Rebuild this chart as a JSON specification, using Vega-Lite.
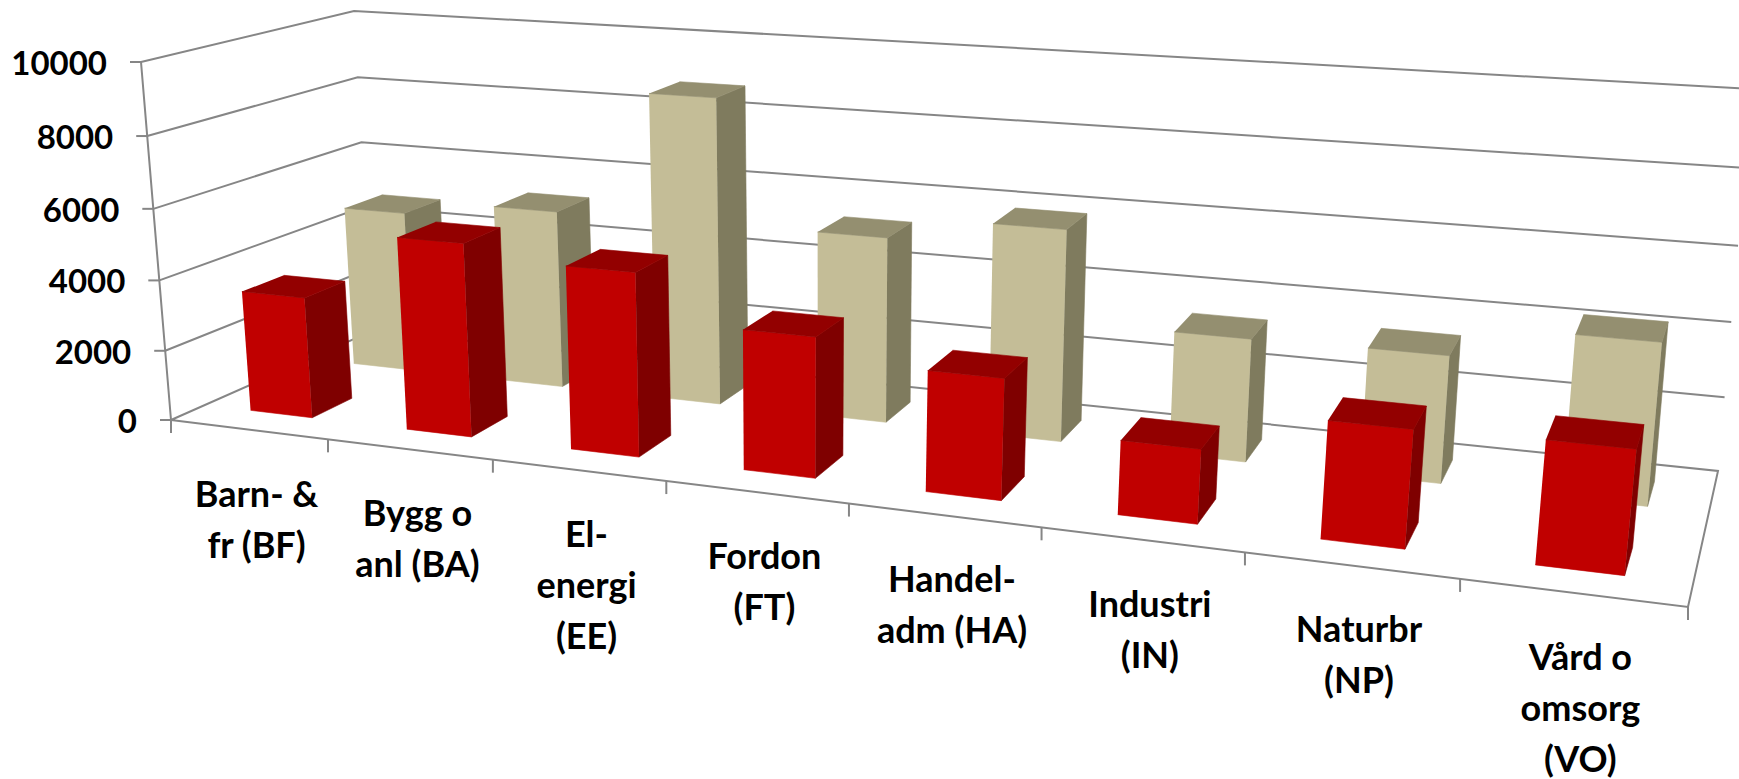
{"$schema":"https://vega.github.io/schema/vega-lite/v6.json","width":1739,"height":779,"padding":0,"autosize":{"type":"none"},"background":"white","config":{"view":{"stroke":null}},
"datasets":{"bars":[
{"category":"Barn- &\nfr (BF)","series":"B","value":4755},{"category":"Bygg o\nanl (BA)","series":"B","value":5180},{"category":"El-\nenergi\n(EE)","series":"B","value":8750},{"category":"Fordon\n(FT)","series":"B","value":5230},{"category":"Handel-\nadm (HA)","series":"B","value":5860},{"category":"Industri\n(IN)","series":"B","value":3350},{"category":"Naturbr\n(NP)","series":"B","value":3400},{"category":"Vård o\nomsorg\n(VO)","series":"B","value":4240},
{"category":"Barn- &\nfr (BF)","series":"A","value":3450},{"category":"Bygg o\nanl (BA)","series":"A","value":5400},{"category":"El-\nenergi\n(EE)","series":"A","value":5040},{"category":"Fordon\n(FT)","series":"A","value":3785},{"category":"Handel-\nadm (HA)","series":"A","value":3200},{"category":"Industri\n(IN)","series":"A","value":1925},{"category":"Naturbr\n(NP)","series":"A","value":2980},{"category":"Vård o\nomsorg\n(VO)","series":"A","value":3060}],
"levels":[{"level":0},{"level":2000},{"level":4000},{"level":6000},{"level":8000},{"level":10000}],
"ticks":[{"tick":0},{"tick":1},{"tick":2},{"tick":3},{"tick":4},{"tick":5},{"tick":6},{"tick":7},{"tick":8}]},
"encoding":{"x":{"field":"px","type":"quantitative","scale":{"domain":[0,1739]},"axis":null},"y":{"field":"py","type":"quantitative","scale":{"domain":[0,779],"reverse":true},"axis":null}},
"layer":[
{"data":{"name":"levels"},"transform":[
{"calculate":"[0,1,2,3,4]","as":"corner"},{"flatten":["corner"]},
{"calculate":"(datum.corner==2||datum.corner==3)?1:0","as":"u"},
{"calculate":"(datum.corner==1||datum.corner==2)?1:0","as":"z"},
{"calculate":"datum.level/10000","as":"Y"},
{"calculate":"datum.Y*0.9587/(1-0.0413*datum.Y)","as":"v"},
{"calculate":"(1-datum.u)*((1-datum.z)*171+datum.z*372)+datum.u*((1-datum.z)*1688+datum.z*1718)","as":"bx"},
{"calculate":"(1-datum.u)*((1-datum.z)*420+datum.z*331)+datum.u*((1-datum.z)*607+datum.z*471)","as":"by"},
{"calculate":"(1-datum.u)*((1-datum.z)*141+datum.z*354)+datum.u*((1-datum.z)*1733+datum.z*1752)","as":"tx"},
{"calculate":"(1-datum.u)*((1-datum.z)*62+datum.z*11)+datum.u*((1-datum.z)*168+datum.z*89)","as":"ty"},
{"calculate":"datum.bx+datum.v*(datum.tx-datum.bx)","as":"px"},
{"calculate":"datum.by+datum.v*(datum.ty-datum.by)","as":"py"},
{"calculate":"datum.px-11","as":"px2"}],
"layer":[
{"transform":[{"filter":"datum.corner<=2||datum.level==0"}],"mark":{"type":"line","color":"#868686","strokeWidth":2},"encoding":{"detail":{"field":"level"},"order":{"field":"corner"}}},
{"transform":[{"filter":"datum.corner==0"}],"mark":{"type":"line","color":"#868686","strokeWidth":2},"encoding":{"order":{"field":"level"}}},
{"transform":[{"filter":"datum.corner==0"}],"mark":{"type":"rule","color":"#868686","strokeWidth":2},"encoding":{"x2":{"field":"px2"}}},
{"transform":[{"filter":"datum.corner==0"}],"mark":{"type":"text","font":"Lato","fontWeight":"bold","fontSize":33,"align":"right","baseline":"middle","dx":-34,"dy":3,"color":"black"},"encoding":{"text":{"field":"level","type":"nominal"}}}]},
{"data":{"name":"ticks"},"transform":[
{"calculate":"datum.tick/8*0.808/(1-0.024*datum.tick)","as":"u"},
{"calculate":"171+1517*datum.u","as":"px"},
{"calculate":"420+187*datum.u","as":"py"},
{"calculate":"datum.py+13","as":"py2"}],
"mark":{"type":"rule","color":"#868686","strokeWidth":2},"encoding":{"y2":{"field":"py2"}}},
{"data":{"name":"bars"},"transform":[
{"window":[{"op":"row_number","as":"n"}],"groupby":["series"]},
{"calculate":"['front','side','top']","as":"face"},{"flatten":["face"]},
{"calculate":"[0,1,2,3]","as":"corner"},{"flatten":["corner"]},
{"calculate":"datum.face=='side'?1:((datum.corner==1||datum.corner==2)?1:0)","as":"wx"},
{"calculate":"datum.face=='front'?0:(datum.face=='top'?(datum.corner>=2?1:0):((datum.corner==1||datum.corner==2)?1:0))","as":"wz"},
{"calculate":"datum.face=='top'?1:(datum.corner>=2?1:0)","as":"wy"},
{"calculate":"datum.series=='A'?datum.n-1+0.3+0.4*datum.wx:datum.n-1+0.31+0.405*datum.wx","as":"X"},
{"calculate":"datum.series=='A'?0.17+0.21*datum.wz:0.69+0.185*datum.wz","as":"z"},
{"calculate":"datum.wy*datum.value/10000","as":"Y"},
{"calculate":"datum.X/8*0.808/(1-0.024*datum.X)","as":"u"},
{"calculate":"datum.Y*0.9587/(1-0.0413*datum.Y)","as":"v"},
{"calculate":"(1-datum.u)*((1-datum.z)*171+datum.z*372)+datum.u*((1-datum.z)*1688+datum.z*1718)","as":"bx"},
{"calculate":"(1-datum.u)*((1-datum.z)*420+datum.z*331)+datum.u*((1-datum.z)*607+datum.z*471)","as":"by"},
{"calculate":"(1-datum.u)*((1-datum.z)*141+datum.z*354)+datum.u*((1-datum.z)*1733+datum.z*1752)","as":"tx"},
{"calculate":"(1-datum.u)*((1-datum.z)*62+datum.z*11)+datum.u*((1-datum.z)*168+datum.z*89)","as":"ty"},
{"calculate":"datum.bx+datum.v*(datum.tx-datum.bx)","as":"px"},
{"calculate":"datum.by+datum.v*(datum.ty-datum.by)","as":"py"},
{"calculate":"datum.series+' '+datum.face","as":"tone"},
{"calculate":"datum.category+' '+datum.face","as":"shape"}],
"layer":[
{"transform":[{"filter":"datum.series=='B'"}],"mark":{"type":"line","filled":true,"strokeWidth":0.6},"encoding":{"detail":{"field":"shape"},"order":{"field":"corner"},"fill":{"field":"tone","type":"nominal","legend":null,"scale":{"domain":["A front","A side","A top","B front","B side","B top"],"range":["#C00000","#7F0000","#930000","#C4BD97","#7F7B5E","#948F70"]}},"stroke":{"field":"tone","type":"nominal","legend":null,"scale":{"domain":["A front","A side","A top","B front","B side","B top"],"range":["#C00000","#7F0000","#930000","#C4BD97","#7F7B5E","#948F70"]}}}},
{"transform":[{"filter":"datum.series=='A'"}],"mark":{"type":"line","filled":true,"strokeWidth":0.6},"encoding":{"detail":{"field":"shape"},"order":{"field":"corner"},"fill":{"field":"tone","type":"nominal","legend":null,"scale":{"domain":["A front","A side","A top","B front","B side","B top"],"range":["#C00000","#7F0000","#930000","#C4BD97","#7F7B5E","#948F70"]}},"stroke":{"field":"tone","type":"nominal","legend":null,"scale":{"domain":["A front","A side","A top","B front","B side","B top"],"range":["#C00000","#7F0000","#930000","#C4BD97","#7F7B5E","#948F70"]}}}}]},
{"data":{"name":"bars"},"transform":[
{"filter":"datum.series=='A'"},
{"window":[{"op":"row_number","as":"n"}]},
{"calculate":"datum.n-0.5","as":"X"},
{"calculate":"datum.X/8*0.808/(1-0.024*datum.X)","as":"u"},
{"calculate":"171+1517*datum.u","as":"px"},
{"calculate":"420+187*datum.u","as":"py"}],
"mark":{"type":"text","font":"Lato","fontWeight":"bold","fontSize":36,"align":"center","baseline":"alphabetic","dx":8,"dy":77,"lineBreak":"\n","lineHeight":51,"color":"black"},"encoding":{"text":{"field":"category","type":"nominal"}}}
]}
